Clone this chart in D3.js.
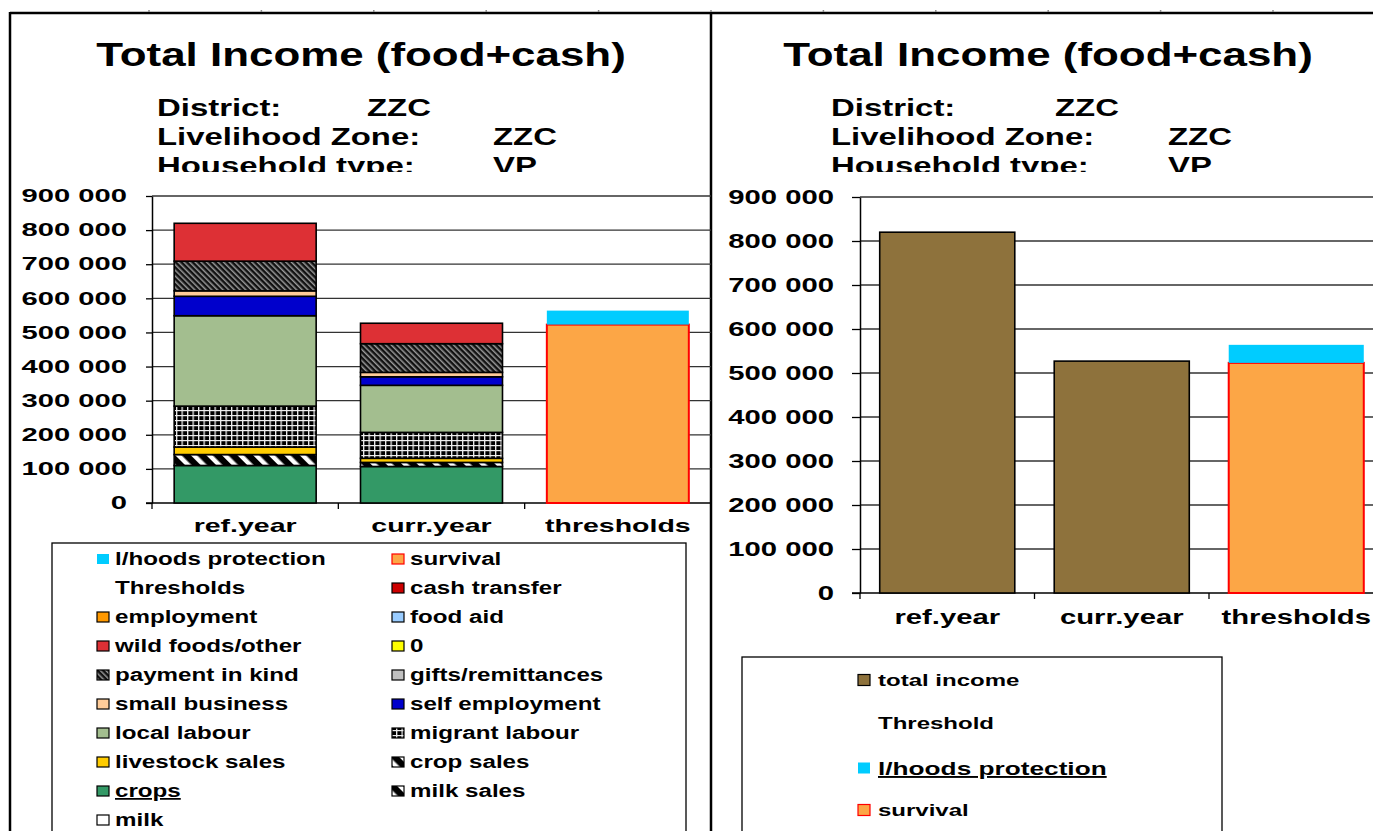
<!DOCTYPE html>
<html>
<head>
<meta charset="utf-8">
<script src="https://cdn.jsdelivr.net/npm/d3@7"></script>
<style>
  body { margin: 0; background: #fff; }
  svg { display: block; }
  text { font-family: Arial, "Liberation Sans", sans-serif; font-weight: bold; fill: #000; }
</style>
</head>
<body>
<div id="chart"></div>
<script>
// categories on the x axis
const categories = ['ref.year', 'curr.year', 'thresholds']

// stacked series, bottom -> top (Excel legend shows them reversed)
const seriesNames = ['milk', 'milk sales', 'crops', 'crop sales', 'livestock sales', 'migrant labour',
  'local labour', 'self employment', 'small business', 'gifts/remittances', 'payment in kind', '0',
  'wild foods/other', 'food aid', 'employment', 'cash transfer', 'Thresholds', 'survival', 'l/hoods protection']
const refYear    = [0, 0, 110000, 32000, 22000, 120000, 265000, 57000, 16000, 0, 87000, 0, 111000, 0, 0, 0, 0, 0, 0]
const currYear   = [0, 0, 107000, 12000, 12000, 76000, 138000, 25000, 13000, 0, 84000, 0, 60000, 0, 0, 0, 0, 0, 0]
const thresholds = [0, 0, 0, 0, 0, 0, 0, 0, 0, 0, 0, 0, 0, 0, 0, 0, 0, 523000, 41000]

// right chart
const totalIncome = [820000, 527000, 0]
const survival = [0, 0, 523000]
const lhoodsProtection = [0, 0, 41000]
const rightLegend = ['total income', 'Threshold', 'l/hoods protection', 'survival']

const yTicks = [0, 100000, 200000, 300000, 400000, 500000, 600000, 700000, 800000, 900000]
const titleText = 'Total Income (food+cash)'
const infoLabels = ['District:', 'Livelihood Zone:', 'Household type:']
const infoValues = ['ZZC', 'ZZC', 'VP']

const fills = {
  'milk': '#ffffff', 'milk sales': 'url(#stripes)', 'crops': '#339966', 'crop sales': 'url(#stripes)',
  'livestock sales': '#ffcc00', 'migrant labour': 'url(#grid)', 'local labour': '#a3be8f',
  'self employment': '#0000cc', 'small business': '#ffcc99', 'gifts/remittances': '#c0c0c0',
  'payment in kind': 'url(#hatch)', '0': '#ffff00', 'wild foods/other': '#dd3035', 'food aid': '#99ccff',
  'employment': '#ff9900', 'cash transfer': '#cc0000', 'Thresholds': null, 'survival': '#fca646',
  'l/hoods protection': '#00ccff', 'total income': '#8e723c', 'Threshold': null
}
const strokes = { 'survival': '#ff0000', 'l/hoods protection': 'none' }

let svg = d3.select('#chart').append('svg').attr('width', 1373).attr('height', 831)

let defs = svg.append('defs')
let p1 = defs.append('pattern').attr('id', 'stripes').attr('patternUnits', 'userSpaceOnUse')
  .attr('width', 11).attr('height', 11).attr('patternTransform', 'rotate(-45)')
p1.append('rect').attr('width', 11).attr('height', 11).attr('fill', '#000')
p1.append('rect').attr('width', 4.5).attr('height', 11).attr('fill', '#fff')
let p2 = defs.append('pattern').attr('id', 'hatch').attr('patternUnits', 'userSpaceOnUse')
  .attr('width', 4).attr('height', 4).attr('patternTransform', 'rotate(-45)')
p2.append('rect').attr('width', 4).attr('height', 4).attr('fill', '#111')
p2.append('rect').attr('width', 1.5).attr('height', 4).attr('fill', '#999')
let p3 = defs.append('pattern').attr('id', 'grid').attr('patternUnits', 'userSpaceOnUse')
  .attr('width', 5.5).attr('height', 5)
p3.append('rect').attr('width', 5.5).attr('height', 5).attr('fill', '#000')
p3.append('rect').attr('width', 1.3).attr('height', 5).attr('fill', '#eee')
p3.append('rect').attr('width', 5.5).attr('height', 1.2).attr('fill', '#eee')
defs.append('clipPath').attr('id', 'infoclip').append('rect')
  .attr('x', 0).attr('y', 0).attr('width', 1373).attr('height', 172)

// widen text like the Excel rendering
function stretch(sel, k) {
  sel.each(function () {
    let w = this.getComputedTextLength()
    d3.select(this).attr('textLength', w * k).attr('lengthAdjust', 'spacingAndGlyphs')
  })
}

let fmt = d => d3.format(',')(d).replace(/,/g, ' ')

// frame lines
svg.append('line').attr('x1', 10).attr('x2', 1373).attr('y1', 13).attr('y2', 13).attr('stroke', '#000').attr('stroke-width', 2.5)
svg.append('line').attr('x1', 10).attr('x2', 10).attr('y1', 12).attr('y2', 831).attr('stroke', '#000').attr('stroke-width', 2.5)
svg.append('line').attr('x1', 711).attr('x2', 711).attr('y1', 12).attr('y2', 831).attr('stroke', '#000').attr('stroke-width', 2.5)
svg.selectAll('.topTick')
  .data(d3.range(149, 1373, 112.4))
  .enter().append('line')
  .attr('x1', d => d).attr('x2', d => d).attr('y1', 10).attr('y2', 12)
  .attr('stroke', '#888').attr('stroke-width', 1.5)

function header(cfg) {
  let t = svg.append('text').attr('x', cfg.titleX).attr('y', 66)
    .attr('text-anchor', 'middle').attr('font-size', 33).text(titleText)
  stretch(t, 1.33)
  let g = svg.append('g').attr('clip-path', 'url(#infoclip)')
  infoLabels.forEach((lab, i) => {
    let y = 116 + i * 29
    stretch(g.append('text').attr('x', cfg.infoX).attr('y', y).attr('font-size', 23.5).text(lab), 1.4)
    stretch(g.append('text').attr('x', cfg.valueX[i]).attr('y', y).attr('font-size', 23.5).text(infoValues[i]), 1.4)
  })
}

function frame(cfg) {
  let x = d3.scaleBand().domain(categories).range([cfg.x0, cfg.x0 + cfg.w]).padding(0)
  let y = d3.scaleLinear().domain([0, 900000]).range([cfg.y0, cfg.y1])

  svg.selectAll('.grid' + cfg.id)
    .data(yTicks.filter(d => d > 0))
    .enter().append('line')
    .attr('x1', cfg.x0).attr('x2', cfg.gridEnd)
    .attr('y1', d => y(d)).attr('y2', d => y(d))
    .attr('stroke', '#333').attr('stroke-width', 1.3)

  let yAxis = svg.append('g').attr('transform', `translate(${cfg.x0},0)`)
    .call(d3.axisLeft(y).tickValues(yTicks).tickSize(cfg.tick).tickSizeOuter(0).tickPadding(cfg.pad).tickFormat(fmt))
  yAxis.select('.domain').attr('stroke', '#000').attr('stroke-width', 1.5)
  yAxis.selectAll('.tick line').attr('stroke', '#000').attr('stroke-width', 1.3)
  yAxis.selectAll('text').attr('font-size', cfg.yfont).attr('font-family', null)
  stretch(yAxis.selectAll('text'), cfg.yk)

  let xAxis = svg.append('g').attr('transform', `translate(0,${cfg.y0})`)
    .call(d3.axisBottom(x).tickSize(0).tickPadding(cfg.xpad))
  xAxis.select('.domain').remove()
  xAxis.append('line').attr('x1', cfg.x0 - cfg.tick).attr('x2', cfg.gridEnd)
    .attr('stroke', '#000').attr('stroke-width', 1.5)
  xAxis.selectAll('.sep')
    .data(categories)
    .enter().append('line')
    .attr('x1', d => x(d)).attr('x2', d => x(d)).attr('y1', 0).attr('y2', 6)
    .attr('stroke', '#000').attr('stroke-width', 1.3)
  xAxis.selectAll('text').attr('font-size', cfg.xfont).attr('font-family', null)
  stretch(xAxis.selectAll('text'), 1.5)
  return { x, y }
}

// ---------- left chart ----------
header({ titleX: 361, infoX: 157, valueX: [367, 493, 493] })
let L = frame({ id: 'L', x0: 152, w: 559, gridEnd: 711, y0: 503, y1: 196, tick: 6, pad: 19, xpad: 16, xfont: 19, yfont: 18, yk: 1.62 })

let rows = categories.map((c, i) => {
  let r = { cat: c }
  seriesNames.forEach((s, j) => { r[s] = [refYear, currYear, thresholds][i][j] })
  return r
})
let stacked = d3.stack().keys(seriesNames)(rows)
let gapL = 0.238
svg.append('g').selectAll('g')
  .data(stacked)
  .enter().append('g')
  .attr('fill', d => fills[d.key])
  .attr('stroke', d => strokes[d.key] || '#000')
  .attr('stroke-width', d => d.key === 'survival' ? 2 : 1.6)
  .selectAll('rect')
  .data(d => d.filter(v => v[1] - v[0] > 0))
  .enter().append('rect')
  .attr('x', d => L.x(d.data.cat) + L.x.bandwidth() * gapL / 2)
  .attr('width', L.x.bandwidth() * (1 - gapL))
  .attr('y', d => L.y(d[1]))
  .attr('height', d => L.y(d[0]) - L.y(d[1]))

// left legend
let legendL = seriesNames.slice().reverse()
let lg = svg.append('g')
lg.append('rect').attr('x', 52).attr('y', 543).attr('width', 634).attr('height', 320)
  .attr('fill', '#fff').attr('stroke', '#000').attr('stroke-width', 1.3)
legendL.forEach((name, i) => {
  let col = i % 2, row = Math.floor(i / 2)
  let cy = 559 + row * 29
  if (fills[name]) {
    lg.append('rect').attr('x', col ? 392 : 97).attr('y', cy - 5).attr('width', 12).attr('height', 10)
      .attr('fill', fills[name]).attr('stroke', strokes[name] || '#000').attr('stroke-width', 1.2)
  }
  let t = lg.append('text').attr('x', col ? 410 : 115).attr('y', cy + 6).attr('font-size', 17.5).text(name)
  if (name === 'crops') t.attr('text-decoration', 'underline')
  stretch(t, 1.38)
})

// ---------- right chart ----------
header({ titleX: 1048, infoX: 831, valueX: [1055, 1168, 1168] })
let R = frame({ id: 'R', x0: 860, w: 523.5, gridEnd: 1373, y0: 593, y1: 197, tick: 8, pad: 18, xpad: 17, xfont: 19.5, yfont: 19.5, yk: 1.5 })
let gapR = 0.226
let bx = c => R.x(c) + R.x.bandwidth() * gapR / 2
let bw = R.x.bandwidth() * (1 - gapR)

svg.append('g').selectAll('rect')
  .data(categories.map((c, i) => ({ c, v: totalIncome[i] })).filter(d => d.v > 0))
  .enter().append('rect')
  .attr('x', d => bx(d.c)).attr('width', bw)
  .attr('y', d => R.y(d.v)).attr('height', d => R.y(0) - R.y(d.v))
  .attr('fill', fills['total income']).attr('stroke', '#000').attr('stroke-width', 1.6)

svg.append('g').selectAll('rect')
  .data(categories.map((c, i) => ({ c, v: survival[i] })).filter(d => d.v > 0))
  .enter().append('rect')
  .attr('x', d => bx(d.c)).attr('width', bw)
  .attr('y', d => R.y(d.v)).attr('height', d => R.y(0) - R.y(d.v))
  .attr('fill', fills['survival']).attr('stroke', '#ff0000').attr('stroke-width', 2)

svg.append('g').selectAll('rect')
  .data(categories.map((c, i) => ({ c, v: lhoodsProtection[i], base: survival[i] })).filter(d => d.v > 0))
  .enter().append('rect')
  .attr('x', d => bx(d.c)).attr('width', bw)
  .attr('y', d => R.y(d.base + d.v)).attr('height', d => R.y(d.base) - R.y(d.base + d.v))
  .attr('fill', fills['l/hoods protection'])

// right legend
let rg = svg.append('g')
rg.append('rect').attr('x', 742).attr('y', 657).attr('width', 480).attr('height', 200)
  .attr('fill', '#fff').attr('stroke', '#000').attr('stroke-width', 1.3)
let rowY = [680, 723, 768, 810]
rightLegend.forEach((name, i) => {
  if (fills[name]) {
    rg.append('rect').attr('x', 858).attr('y', rowY[i] - 5.5).attr('width', 12).attr('height', 11)
      .attr('fill', fills[name]).attr('stroke', strokes[name] || '#000').attr('stroke-width', 1.2)
  }
  let big = name === 'l/hoods protection'
  let t = rg.append('text').attr('x', 878).attr('y', rowY[i] + (big ? 7 : 6))
    .attr('font-size', big ? 19 : 16).text(name)
  if (big) t.attr('text-decoration', 'underline')
  stretch(t, big ? 1.38 : 1.5)
})
</script>
</body>
</html>
